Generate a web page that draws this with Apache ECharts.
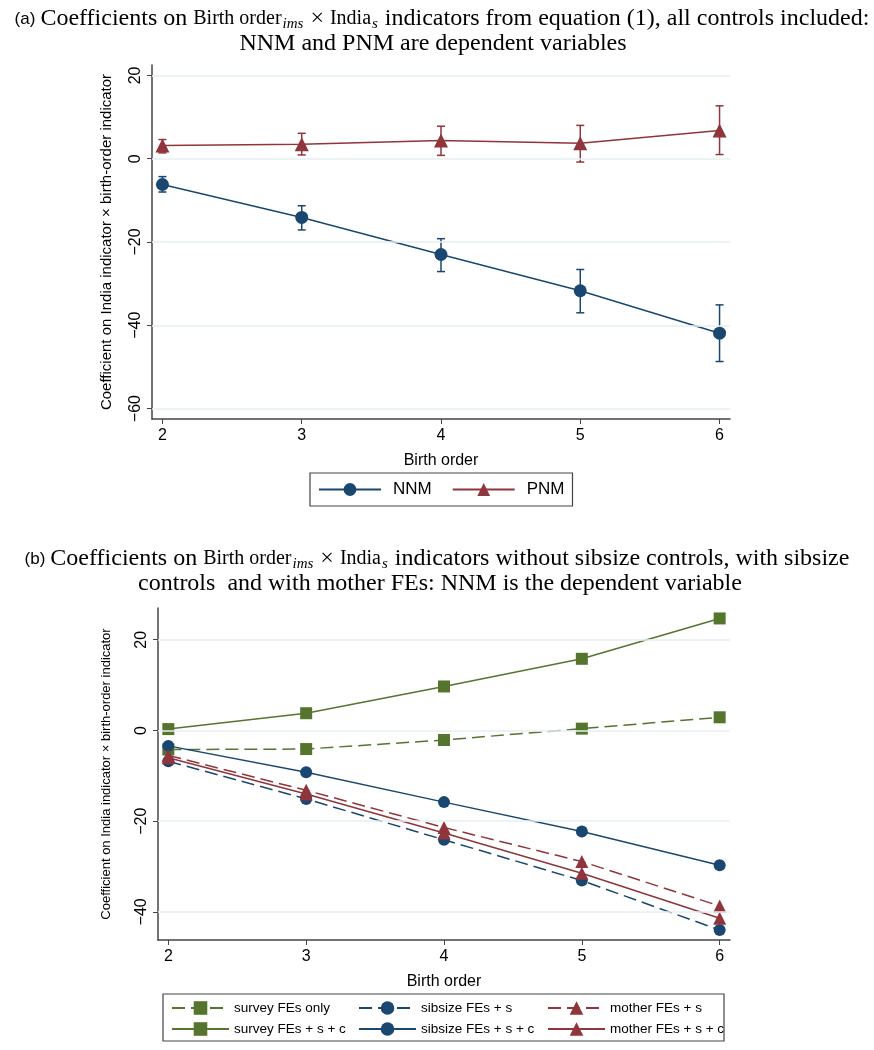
<!DOCTYPE html>
<html><head><meta charset="utf-8">
<script src="https://cdn.jsdelivr.net/npm/echarts@6/dist/echarts.min.js"></script>
<style>html,body{margin:0;padding:0;background:#fff}#c{width:874px;height:1050px}</style>
</head><body><div id="c"></div>
<script>
// ---- data ----
const birthOrder = [2, 3, 4, 5, 6];
const yTicksTop = [-60, -40, -20, 0, 20];
const yTicksBottom = [-40, -20, 0, 20];
// panel (a)
const nnm   = [-6.2, -14.1, -23.0, -31.7, -41.9];
const nnmLo = [-8.0, -17.1, -27.1, -37.0, -48.7];
const nnmHi = [-4.3, -11.3, -19.2, -26.6, -35.1];
const pnm   = [3.2, 3.5, 4.4, 3.7, 6.8];
const pnmLo = [1.4, 0.9, 0.8, -0.8, 1.0];
const pnmHi = [4.6, 6.1, 7.8, 8.0, 12.7];
// panel (b)
const surveyOnly = [-4.2, -4.1, -2.1, 0.4, 2.9];
const surveySC   = [0.3, 3.8, 9.7, 15.8, 24.7];
const sibS       = [-6.8, -15.1, -24.1, -33.1, -44.0];
const sibSC      = [-3.4, -9.2, -15.8, -22.3, -29.7];
const motherS    = [-5.5, -13.2, -21.4, -28.9, -38.7];
const motherSC   = [-6.0, -14.0, -22.6, -31.5, -41.4];

const NAVY = '#1a476f', MAROON = '#90353b', GREEN = '#55752f';
const GRIDC = '#e6eff2', AXC = '#444';
const SANS = 'Liberation Sans, Arial, sans-serif';
const SERIF = 'Liberation Serif, Times New Roman, serif';

const pts = ys => birthOrder.map((x, i) => [x, ys[i]]);
const ebData = (lo, hi) => birthOrder.map((x, i) => [x, lo[i], hi[i]]);

function ebRender(color) {
  return function (params, api) {
    const x = api.value(0);
    const p1 = api.coord([x, api.value(1)]);
    const p2 = api.coord([x, api.value(2)]);
    const w = 4;
    const st = { stroke: color, lineWidth: 1.5 };
    return { type: 'group', children: [
      { type: 'line', shape: { x1: p1[0], y1: p1[1], x2: p2[0], y2: p2[1] }, style: st },
      { type: 'line', shape: { x1: p1[0] - w, y1: p1[1], x2: p1[0] + w, y2: p1[1] }, style: st },
      { type: 'line', shape: { x1: p2[0] - w, y1: p2[1], x2: p2[0] + w, y2: p2[1] }, style: st }
    ]};
  };
}

function xAx(gi) {
  return {
    type: 'value', gridIndex: gi, min: 1.925, max: 6.075,
    name: 'Birth order', nameLocation: 'middle', nameGap: 34,
    nameTextStyle: { fontFamily: SANS, fontSize: 16, color: '#000' },
    axisLine: { show: true, onZero: false, lineStyle: { color: AXC, width: 1.5 } },
    axisTick: { show: true, length: 5, customValues: birthOrder, lineStyle: { color: AXC } },
    axisLabel: { customValues: birthOrder, fontFamily: SANS, fontSize: 16, color: '#000', margin: 9 },
    splitLine: { show: false }
  };
}
function yAx(gi, min, max, ticks, nameSize, nameGap) {
  return {
    type: 'value', gridIndex: gi, min: min, max: max,
    name: 'Coefficient on India indicator × birth-order indicator',
    nameLocation: 'middle', nameRotate: 90, nameGap: nameGap,
    nameTextStyle: { fontFamily: SANS, fontSize: nameSize, color: '#000' },
    axisLine: { show: true, onZero: false, lineStyle: { color: AXC, width: 1.5 } },
    axisTick: { show: true, length: 5, customValues: ticks, lineStyle: { color: AXC } },
    axisLabel: { customValues: ticks, rotate: 90, fontFamily: SANS, fontSize: 16, color: '#000', margin: 8,
      formatter: v => String(v).replace('-', '\u2212') },
    splitLine: { show: false }
  };
}
function gridLines(gi, ticks) {
  return {
    type: 'line', xAxisIndex: gi, yAxisIndex: gi, data: [], silent: true,
    markLine: { silent: true, symbol: 'none', label: { show: false },
      lineStyle: { color: GRIDC, type: 'solid', width: 1.5 },
      data: ticks.map(t => ({ yAxis: t })) }
  };
}
function lineSeries(gi, name, ys, color, symbol, dashed, size) {
  return {
    type: 'line', name: name, xAxisIndex: gi, yAxisIndex: gi, data: pts(ys),
    symbol: symbol, symbolSize: size, showSymbol: true,
    lineStyle: { color: color, width: 1.5, type: dashed ? [13, 6] : 'solid' },
    itemStyle: { color: color, opacity: 1 },
    emphasis: { disabled: true }, animation: false, z: 3
  };
}

const rs = {
  a: { fontFamily: SANS, fontSize: 17, fontWeight: 'normal', color: '#000', lineHeight: 26 },
  r: { fontFamily: SERIF, fontSize: 24, fontWeight: 'normal', color: '#000', lineHeight: 26 },
  s: { fontFamily: SERIF, fontSize: 20, fontWeight: 'normal', color: '#000', lineHeight: 26 },
  sub: { fontFamily: SERIF, fontSize: 15, fontStyle: 'italic', fontWeight: 'normal', color: '#000', lineHeight: 26, verticalAlign: 'bottom', padding: [0, 1, 0, 1] }
};
const ts = { rich: rs, fontWeight: 'normal' };

const legText = { fontFamily: SANS, fontSize: 13.5, color: '#000' };
function subLegend(names, left) {
  return { data: names, left: left, top: 1001, orient: 'vertical',
    itemWidth: 57, itemHeight: 17, itemGap: 7, padding: 0, textStyle: legText };
}

const option = {
  animation: false,
  backgroundColor: '#fff',
  title: [
    { text: '{a|(a)} {r|Coefficients on }{s|Birth order}{sub|ims}{r| × }{s|India}{sub|s}{r| indicators from equation (1), all controls included:}',
      left: 437, top: 1, textAlign: 'center', textStyle: ts },
    { text: '{r|NNM and PNM are dependent variables}', left: 428, top: 26, textAlign: 'center', textStyle: ts },
    { text: '{a|(b)} {r|Coefficients on }{s|Birth order}{sub|ims}{r| × }{s|India}{sub|s}{r| indicators without sibsize controls, with sibsize}',
      left: 432, top: 541, textAlign: 'center', textStyle: ts },
    { text: '{r|controls  and with mother FEs: NNM is the dependent variable}', left: 435, top: 566, textAlign: 'center', textStyle: ts }
  ],
  grid: [
    { left: 152, right: 144, top: 65, height: 354 },
    { left: 158, right: 144, top: 608, height: 332 }
  ],
  xAxis: [xAx(0), xAx(1)],
  yAxis: [yAx(0, -62.5, 22.5, yTicksTop, 15, 38), yAx(1, -46.2, 27.0, yTicksBottom, 13, 45)],
  legend: [
    { data: ['NNM', 'PNM'], left: 310, top: 473, orient: 'horizontal',
      borderColor: '#444', borderWidth: 1.2, borderRadius: 0, padding: [8, 8, 8, 8],
      itemWidth: 62, itemHeight: 16, itemGap: 20,
      textStyle: { fontFamily: SANS, fontSize: 17, color: '#000', padding: [0, 0, 0, 7] } },
    subLegend(['survey FEs only', 'survey FEs + s + c'], 171),
    subLegend(['sibsize FEs + s', 'sibsize FEs + s + c'], 358),
    subLegend(['mother FEs + s', 'mother FEs + s + c'], 547)
  ],
  graphic: [
    { type: 'rect', shape: { x: 163, y: 994, width: 561, height: 47 },
      style: { fill: 'none', stroke: '#444', lineWidth: 1.2 }, silent: true }
  ],
  series: [
    gridLines(0, yTicksTop),
    gridLines(1, yTicksBottom),
    { type: 'custom', xAxisIndex: 0, yAxisIndex: 0, data: ebData(nnmLo, nnmHi), renderItem: ebRender(NAVY), z: 2, silent: true },
    { type: 'custom', xAxisIndex: 0, yAxisIndex: 0, data: ebData(pnmLo, pnmHi), renderItem: ebRender(MAROON), z: 2, silent: true },
    lineSeries(0, 'NNM', nnm, NAVY, 'circle', false, 13),
    lineSeries(0, 'PNM', pnm, MAROON, 'triangle', false, 14),
    lineSeries(1, 'survey FEs only', surveyOnly, GREEN, 'rect', true, 12),
    lineSeries(1, 'survey FEs + s + c', surveySC, GREEN, 'rect', false, 12),
    lineSeries(1, 'sibsize FEs + s', sibS, NAVY, 'circle', true, 12),
    lineSeries(1, 'sibsize FEs + s + c', sibSC, NAVY, 'circle', false, 12),
    lineSeries(1, 'mother FEs + s', motherS, MAROON, 'triangle', true, 13),
    lineSeries(1, 'mother FEs + s + c', motherSC, MAROON, 'triangle', false, 13)
  ]
};
const chart = echarts.init(document.getElementById('c'), null, { renderer: 'canvas' });
chart.setOption(option);
</script></body></html>
